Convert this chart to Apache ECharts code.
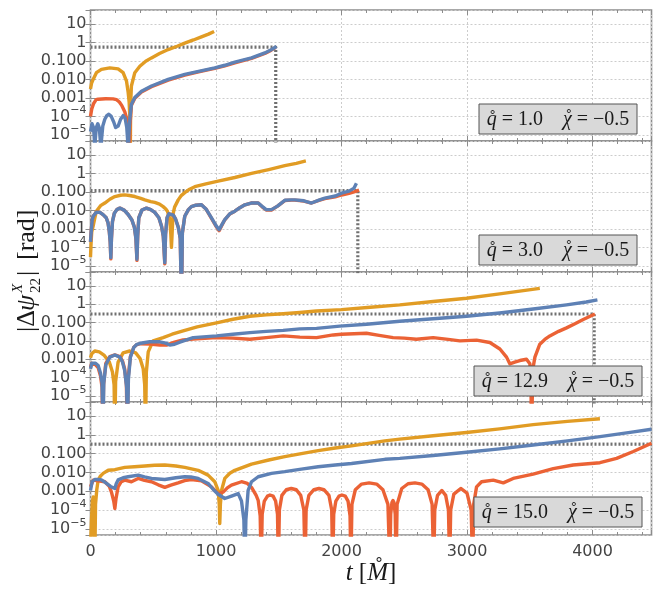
<!DOCTYPE html>
<html>
<head>
<meta charset="utf-8">
<title>phase error</title>
<script src="https://cdn.jsdelivr.net/npm/echarts@6/dist/echarts.min.js"></script>
<style>
html, body { margin: 0; padding: 0; background: #fff; }
#chart { width: 664px; height: 589px; }
</style>
</head>
<body>
<div id="chart"></div>
<script>
// panel labels
var panelQ = ['1.0', '3.0', '12.9', '15.0'];
var panelChi = ['−0.5', '−0.5', '−0.5', '−0.5'];
// y ticks (log10 of value) and their labels
var yDecades = [-5, -4, -3, -2, -1, 0, 1];
var yDecadeLabels = ['10{sup|−5}', '10{sup|−4}', '0.001', '0.010', '0.100', '1', '10'];
var xTicks = [0, 1000, 2000, 3000, 4000];

// panel 1 : q=1.0   [t, |dpsi|]   (1e-7 = zero crossing, below the axis)
var orange1 = [[0,0.003],[8,0.006],[21,0.01],[47,0.023],[87,0.035],[154,0.042],[220,0.037],[260,0.023],[287,0.008],[300,0.002],[308,0.0006],[313,0.0001],[316,1e-7],[320,0.0005],[326,0.0044],[353,0.023],[393,0.051],[440,0.095],[486,0.145],[550,0.25],[619,0.41],[690,0.62],[751,0.91],[820,1.35],[884,2.0],[940,2.8],[985,3.9]];
var red1 = [[0,0.0001],[10,0.00025],[25,0.0005],[45,0.0008],[61,0.00085],[120,0.0009],[180,0.00088],[207,0.0008],[230,0.0006],[250,0.00038],[273,0.00018],[290,0.00007],[300,0.00002],[308,1e-7],[314,0.00003],[326,0.0004],[353,0.00095],[406,0.0021],[486,0.004],[619,0.0092],[751,0.017],[870,0.026],[990,0.039],[1070,0.054],[1150,0.079],[1283,0.135],[1389,0.25],[1440,0.38],[1476,0.54]];
var blue1 = [[0,1.5e-5],[12,4e-5],[24,2.5e-5],[31,5e-6],[34,1e-7],[38,5e-6],[46,2.5e-5],[58,4e-5],[70,2.5e-5],[78,5e-6],[82,1e-7],[87,5e-6],[98,3e-5],[114,7e-5],[130,1.1e-4],[146,1.3e-4],[165,1e-4],[185,5e-5],[200,2.5e-5],[207,2.1e-5],[220,3e-5],[240,7e-5],[260,1.1e-4],[276,8e-5],[289,2.5e-5],[296,5e-6],[300,1e-7],[305,8e-6],[314,8e-5],[326,4.5e-4],[353,0.00105],[406,0.0023],[486,0.0044],[619,0.01],[751,0.0186],[870,0.028],[990,0.042],[1070,0.058],[1150,0.085],[1283,0.145],[1389,0.27],[1440,0.4],[1482,0.6]];
var ref1 = [[0,0.55],[1476,0.55],[1476,1e-7]];

// panel 2 : q=3.0
var orange2 = [[0,3e-5],[5,0.0002],[10,0.0007],[21,0.0014],[35,0.004],[47,0.009],[80,0.018],[114,0.025],[154,0.04],[194,0.056],[240,0.066],[273,0.069],[310,0.064],[353,0.056],[400,0.045],[433,0.037],[480,0.03],[512,0.027],[550,0.022],[579,0.016],[600,0.012],[613,0.009],[625,0.005],[632,0.003],[640,0.0005],[645,0.0001],[650,0.0005],[655,0.003],[659,0.007],[670,0.015],[699,0.037],[725,0.065],[751,0.091],[790,0.14],[831,0.19],[920,0.27],[1017,0.38],[1150,0.6],[1283,1.0],[1420,1.6],[1548,2.6],[1640,3.5],[1716,4.7]];
var red2 = [[0,0.0002],[5,0.0006],[13,0.003],[21,0.0048],[47,0.008],[75,0.0078],[100,0.0059],[125,0.004],[140,0.0021],[150,0.0007],[157,0.0002],[162,2.4e-5],[167,0.0003],[175,0.0025],[190,0.007],[210,0.011],[234,0.0133],[270,0.01],[300,0.006],[330,0.003],[350,0.0012],[362,0.0003],[370,2e-5],[376,0.0004],[385,0.004],[410,0.0105],[446,0.0133],[480,0.011],[512,0.0078],[545,0.004],[566,0.0014],[580,0.0004],[592,1.3e-5],[598,0.0005],[610,0.004],[625,0.0065],[640,0.0072],[660,0.0055],[677,0.0035],[700,0.0012],[715,0.0003],[725,1e-7],[732,0.0006],[751,0.0048],[780,0.011],[804,0.016],[840,0.019],[884,0.02],[920,0.012],[964,0.0037],[1000,0.0014],[1025,0.0008],[1045,0.0015],[1070,0.0031],[1110,0.0064],[1150,0.009],[1190,0.014],[1230,0.02],[1280,0.025],[1336,0.025],[1370,0.015],[1400,0.0105],[1442,0.0105],[1490,0.017],[1548,0.034],[1600,0.036],[1628,0.036],[1700,0.032],[1761,0.025],[1820,0.035],[1867,0.043],[1950,0.054],[2000,0.068],[2060,0.083],[2100,0.1],[2140,0.125]];
var blue2 = [[0,0.0002],[5,0.0006],[13,0.003],[21,0.0048],[47,0.008],[75,0.0078],[100,0.0059],[125,0.004],[140,0.0021],[150,0.0007],[157,0.0002],[162,2.8e-5],[167,0.0003],[175,0.0025],[190,0.007],[210,0.011],[234,0.0133],[270,0.01],[300,0.006],[330,0.003],[350,0.0012],[362,0.0003],[370,2.3e-5],[376,0.0004],[385,0.004],[410,0.0105],[446,0.0133],[480,0.011],[512,0.0078],[545,0.004],[566,0.0014],[580,0.0004],[592,1.5e-5],[598,0.0005],[610,0.004],[625,0.0065],[640,0.0072],[660,0.0055],[677,0.0035],[700,0.0012],[715,0.0003],[725,1e-7],[732,0.0006],[751,0.0048],[780,0.011],[804,0.016],[840,0.019],[884,0.02],[920,0.012],[964,0.0039],[1000,0.0015],[1025,0.0009],[1045,0.0016],[1070,0.0032],[1110,0.0065],[1150,0.009],[1190,0.014],[1230,0.02],[1280,0.025],[1336,0.025],[1370,0.016],[1400,0.011],[1442,0.011],[1490,0.017],[1548,0.035],[1600,0.037],[1628,0.037],[1700,0.033],[1761,0.025],[1820,0.036],[1867,0.046],[1950,0.06],[2000,0.085],[2060,0.11],[2100,0.16],[2119,0.29]];
var ref2 = [[0,0.118],[2130,0.118],[2130,1e-7]];

// panel 3 : q=12.9
var orange3 = [[0,0.0012],[10,0.002],[34,0.0028],[70,0.0025],[110,0.0016],[150,0.0007],[175,0.0002],[188,4e-5],[194,1e-7],[200,6e-5],[220,0.0007],[260,0.0022],[313,0.0028],[360,0.0022],[395,0.0011],[420,0.0003],[432,4e-5],[438,1e-7],[445,0.0002],[460,0.0025],[499,0.01],[579,0.015],[650,0.023],[738,0.035],[850,0.058],[1004,0.095],[1135,0.15],[1270,0.22],[1400,0.26],[1535,0.3],[1668,0.35],[1800,0.42],[2000,0.5],[2230,0.68],[2464,0.91],[2730,1.4],[2996,2.1],[3260,3.6],[3580,7.2]];
var red3 = [[0,0.00035],[10,0.0006],[21,0.00065],[40,0.0005],[61,0.00035],[80,0.00012],[92,3e-5],[98,1e-7],[104,4e-5],[122,0.0006],[154,0.0014],[194,0.0017],[234,0.0014],[255,0.0008],[272,0.0003],[286,4e-5],[293,1e-7],[300,1e-4],[318,0.0014],[345,0.0045],[370,0.0063],[398,0.007],[472,0.0066],[552,0.0059],[605,0.0059],[670,0.0085],[738,0.0112],[818,0.0125],[1004,0.015],[1135,0.014],[1270,0.0123],[1400,0.015],[1535,0.0186],[1668,0.016],[1801,0.015],[1934,0.021],[2000,0.023],[2199,0.026],[2300,0.02],[2411,0.015],[2500,0.014],[2597,0.0123],[2730,0.015],[2850,0.012],[2943,0.01],[3076,0.011],[3182,0.0081],[3262,0.0036],[3315,0.0013],[3341,0.00056],[3380,0.0007],[3421,0.00085],[3474,0.001],[3501,0.00056],[3509,0.0001],[3514,1e-7],[3525,0.0003],[3541,0.0013],[3580,0.0066],[3620,0.012],[3660,0.0186],[3730,0.033],[3793,0.051],[3860,0.085],[3926,0.145],[4019,0.29]];
var blue3 = [[0,0.0003],[10,0.0006],[21,0.0007],[40,0.0006],[61,0.00045],[80,0.00017],[92,5e-5],[100,1e-7],[106,5e-5],[122,0.0005],[154,0.0013],[194,0.0017],[234,0.0013],[255,0.0007],[272,0.00025],[288,3e-5],[295,1e-7],[302,8e-5],[318,0.0013],[345,0.0044],[370,0.0065],[398,0.0074],[472,0.0089],[552,0.0089],[600,0.0075],[632,0.0059],[670,0.0065],[712,0.0085],[818,0.015],[1004,0.0186],[1135,0.023],[1270,0.028],[1400,0.033],[1535,0.037],[1668,0.045],[1801,0.048],[1986,0.063],[2200,0.08],[2464,0.117],[2730,0.16],[2996,0.22],[3260,0.33],[3527,0.54],[3793,0.91],[3950,1.3],[4039,1.7]];
var ref3 = [[0,0.29],[4013,0.29],[4013,1e-7]];

// panel 4 : q=15.0
var orange4 = [[0,1e-6],[8,3e-5],[15,0.0003],[22,0.0005],[28,0.0001],[34,1e-7],[40,0.0002],[50,0.0012],[61,0.0039],[80,0.0065],[101,0.0089],[141,0.013],[194,0.014],[273,0.0186],[350,0.02],[433,0.022],[510,0.024],[592,0.025],[680,0.022],[751,0.0186],[858,0.013],[937,0.0072],[990,0.0032],[1017,0.0011],[1026,0.0002],[1030,1.9e-5],[1035,0.0002],[1044,0.0011],[1070,0.0048],[1110,0.009],[1150,0.013],[1283,0.028],[1420,0.046],[1548,0.069],[1680,0.1],[1814,0.145],[1950,0.2],[2080,0.26],[2345,0.48],[2464,0.59],[2730,0.9],[2996,1.33],[3260,2.1],[3527,3.5],[3800,5.2],[4059,7.2]];
var red4 = [[0,0.0017],[21,0.0039],[61,0.0036],[114,0.0032],[150,0.0018],[167,0.0009],[185,0.0003],[194,0.00012],[203,0.0004],[220,0.0017],[245,0.0032],[273,0.0039],[326,0.0032],[380,0.0048],[430,0.0038],[486,0.0032],[540,0.0022],[592,0.0016],[640,0.0021],[698,0.0028],[750,0.0037],[804,0.0042],[884,0.0036],[964,0.0017],[1017,0.00075],[1057,0.0009],[1090,0.0015],[1123,0.0021],[1203,0.0032],[1250,0.0026],[1283,0.0016],[1320,0.0006],[1336,0.00033],[1352,5e-5],[1360,1e-7],[1368,6e-5],[1385,0.0003],[1410,0.00055],[1430,0.00063],[1455,0.00055],[1475,0.0003],[1490,6e-5],[1497,1e-7],[1505,0.0001],[1525,0.0006],[1560,0.0012],[1600,0.0014],[1640,0.0012],[1675,0.0006],[1700,0.0001],[1710,1e-7],[1718,0.0001],[1740,0.0006],[1780,0.0012],[1820,0.0014],[1860,0.0012],[1900,0.0006],[1922,0.0001],[1930,1e-7],[1938,6e-5],[1955,0.0003],[1980,0.00055],[2003,0.00063],[2030,0.00055],[2052,0.0003],[2068,5e-5],[2075,1e-7],[2083,0.0002],[2110,0.0012],[2160,0.0024],[2220,0.0028],[2280,0.0024],[2330,0.0012],[2370,0.0002],[2385,1e-7],[2392,6e-5],[2402,0.00025],[2410,0.00032],[2418,0.00025],[2428,6e-5],[2435,1e-7],[2443,0.0002],[2480,0.0014],[2530,0.0025],[2585,0.0028],[2640,0.0024],[2690,0.0012],[2722,0.0002],[2735,1e-7],[2743,0.0001],[2765,0.0006],[2800,0.0011],[2830,0.0006],[2852,0.0001],[2862,1e-7],[2870,0.0001],[2895,0.0007],[2950,0.0014],[3000,0.0008],[3033,0.0001],[3045,1e-7],[3053,0.0002],[3076,0.0017],[3116,0.0032],[3209,0.0039],[3289,0.0028],[3368,0.0048],[3527,0.0081],[3687,0.016],[3846,0.025],[4059,0.033],[4192,0.056],[4325,0.13],[4470,0.36]];
var blue4 = [[0,0.0011],[13,0.0032],[34,0.0042],[60,0.0043],[87,0.004],[110,0.0032],[128,0.0026],[160,0.0018],[194,0.0014],[205,0.0025],[220,0.004],[260,0.0052],[300,0.0059],[380,0.0072],[430,0.0058],[486,0.0048],[592,0.0042],[680,0.0052],[751,0.0059],[800,0.0057],[858,0.0048],[937,0.0026],[980,0.0012],[1017,0.00069],[1070,0.00041],[1123,0.00055],[1177,0.00075],[1203,0.0003],[1222,3e-5],[1230,1e-7],[1238,3e-5],[1256,0.0011],[1283,0.0032],[1336,0.0059],[1442,0.0089],[1548,0.011],[1680,0.015],[1814,0.02],[1950,0.025],[2080,0.03],[2345,0.05],[2464,0.056],[2730,0.08],[2996,0.118],[3260,0.18],[3527,0.29],[3800,0.48],[4059,0.81],[4300,1.35],[4470,2.0]];
var ref4 = [[0,0.32],[4470,0.32]];

var panels = [
	{q: panelQ[0], chi: panelChi[0], orange: orange1, red: red1, blue: blue1, ref: ref1},
	{q: panelQ[1], chi: panelChi[1], orange: orange2, red: red2, blue: blue2, ref: ref2},
	{q: panelQ[2], chi: panelChi[2], orange: orange3, red: red3, blue: blue3, ref: ref3},
	{q: panelQ[3], chi: panelChi[3], orange: orange4, red: red4, blue: blue4, ref: ref4}
];

// layout
var gridTop = [10, 141, 272, 402];
var gridHeight = [131, 131, 130, 133];
var boxes = [[479, 104, 158, 30], [479, 235, 158, 30], [474, 366, 168, 30], [474, 497, 168, 30]];
var colOrange = '#E19C24', colRed = '#EB6235', colBlue = '#5E81B5';
var yMin = Math.pow(10, -5.33), yMax = Math.pow(10, 1.75);
var tickFont = 'DejaVu Sans', serif = 'Liberation Serif';

// text measuring for the boxed labels (ring over chi is placed by hand)
var measureCtx = document.createElement('canvas').getContext('2d');
function textWidth(txt, size, italic) {
	measureCtx.font = (italic ? 'italic ' : '') + size + 'px "' + serif + '"';
	return measureCtx.measureText(txt).width;
}

function yLabel(v) {
	var e = Math.log10(v);
	var k = Math.round(e);
	if (Math.abs(e - k) > 0.01) return '';
	var pos = yDecades.indexOf(k);
	return pos < 0 ? '' : yDecadeLabels[pos];
}
function xLabel(v) {
	return xTicks.indexOf(v) < 0 ? '' : String(v);
}

function lineSeries(i, data, color, z, dash, width) {
	return {
		type: 'line', xAxisIndex: 2 * i, yAxisIndex: 2 * i,
		data: data, showSymbol: false, symbol: 'none', clip: true, z: z, silent: true,
		lineStyle: {color: color, width: width || 3.4, type: dash || 'solid', join: 'round'}
	};
}

function txt(x, y, s, size, italic, align) {
	return {type: 'text', z: 51, x: x, y: y,
		style: {text: s, fontFamily: serif, fontSize: size, fontStyle: italic ? 'italic' : 'normal', fill: '#1a1a1a',
			align: align || 'left', verticalAlign: 'middle', textAlign: align || 'left', textVerticalAlign: 'middle'}};
}

var grids = [], xAxes = [], yAxes = [], series = [], graphics = [];
for (var i = 0; i < 4; i++) {
	grids.push({left: 90.5, width: 561, top: gridTop[i], height: gridHeight[i],
		show: true, borderColor: '#8c8c8c', borderWidth: 1.6, backgroundColor: 'transparent'});
	xAxes.push({
		type: 'value', gridIndex: i, min: 0, max: 4470, interval: 1000, position: 'bottom',
		axisLine: {show: false},
		axisTick: {show: true, inside: true, length: 5, lineStyle: {color: '#8c8c8c'}},
		minorTick: {show: true, splitNumber: 5, length: 3, lineStyle: {color: '#8c8c8c'}},
		axisLabel: {show: i === 3, formatter: xLabel, color: '#444', fontSize: 16, fontFamily: tickFont, margin: 9},
		splitLine: {show: true, lineStyle: {color: '#cccccc', type: [2, 2]}}
	});
	xAxes.push({
		type: 'value', gridIndex: i, min: 0, max: 4470, interval: 1000, position: 'top',
		axisLine: {show: false},
		axisTick: {show: true, inside: true, length: 5, lineStyle: {color: '#8c8c8c'}},
		minorTick: {show: true, splitNumber: 5, length: 3, lineStyle: {color: '#8c8c8c'}},
		axisLabel: {show: false}, splitLine: {show: false}
	});
	yAxes.push({
		type: 'log', logBase: 10, gridIndex: i, min: yMin, max: yMax, position: 'left',
		axisLine: {show: false},
		axisTick: {show: true, inside: true, length: 5, lineStyle: {color: '#8c8c8c'}},
		axisLabel: {formatter: yLabel, color: '#444', fontSize: 16, fontFamily: tickFont, margin: 4,
			rich: {sup: {fontSize: 11, fontFamily: tickFont, color: '#444', padding: [0, 0, 12, 0]}}},
		splitLine: {show: true, lineStyle: {color: '#cccccc', type: [2, 2]}}
	});
	yAxes.push({
		type: 'log', logBase: 10, gridIndex: i, min: yMin, max: yMax, position: 'right',
		axisLine: {show: false},
		axisTick: {show: true, inside: true, length: 5, lineStyle: {color: '#8c8c8c'}},
		axisLabel: {show: false}, splitLine: {show: false}
	});

	var p = panels[i];
	series.push(lineSeries(i, p.ref, '#707070', 1, [2, 2], 3.2));
	series.push(lineSeries(i, p.orange, colOrange, 2));
	series.push(lineSeries(i, p.red, colRed, 3));
	series.push(lineSeries(i, p.blue, colBlue, 4));

	// boxed label: q̊ = .. , χ̊ = ..
	var b = boxes[i];
	graphics.push({type: 'rect', z: 50, shape: {x: b[0], y: b[1], width: b[2], height: b[3]},
		style: {fill: '#d9d9d9', stroke: '#555', lineWidth: 1}});
	var parts = [['q̊', true], [' = ' + p.q + '    ', false], ['χ', true], [' = ' + p.chi, false]];
	var total = 0, w = [];
	for (var k = 0; k < parts.length; k++) {
		w[k] = textWidth(parts[k][0], 20, parts[k][1]);
		total += w[k];
	}
	var cx = b[0] + (b[2] - total) / 2, cy = b[1] + b[3] / 2 + 1;
	for (k = 0; k < parts.length; k++) {
		graphics.push(txt(cx, cy, parts[k][0], 20, parts[k][1]));
		if (k === 2) graphics.push(txt(cx + w[k] / 2 + 1.5, cy - 1, '˚', 20, false, 'center'));
		cx += w[k];
	}
}

// axis titles
graphics.push({
	type: 'group', x: 27, y: 332, rotation: Math.PI / 2,
	children: [
		txt(0, 0, '|Δ', 26, false),
		txt(21, 0, 'ψ', 26, true),
		txt(39, -9, 'X', 15, true),
		txt(39, 9, '22', 15, false),
		txt(56, 0, '|', 26, false),
		txt(72, 0, '[rad]', 26, false)
	]
});
graphics.push({type: 'text', x: 371, y: 573,
	style: {text: '{i|t} [{i|M̊}]', fontFamily: serif, fontSize: 25, fill: '#1a1a1a',
		align: 'center', verticalAlign: 'middle', textAlign: 'center', textVerticalAlign: 'middle',
		rich: {i: {fontFamily: serif, fontSize: 25, fontStyle: 'italic', fill: '#1a1a1a'}}}});

var chart = echarts.init(document.getElementById('chart'), null, {renderer: 'canvas'});
chart.setOption({
	animation: false,
	backgroundColor: '#ffffff',
	grid: grids,
	xAxis: xAxes,
	yAxis: yAxes,
	series: series,
	graphic: {elements: graphics}
});
</script>
</body>
</html>
